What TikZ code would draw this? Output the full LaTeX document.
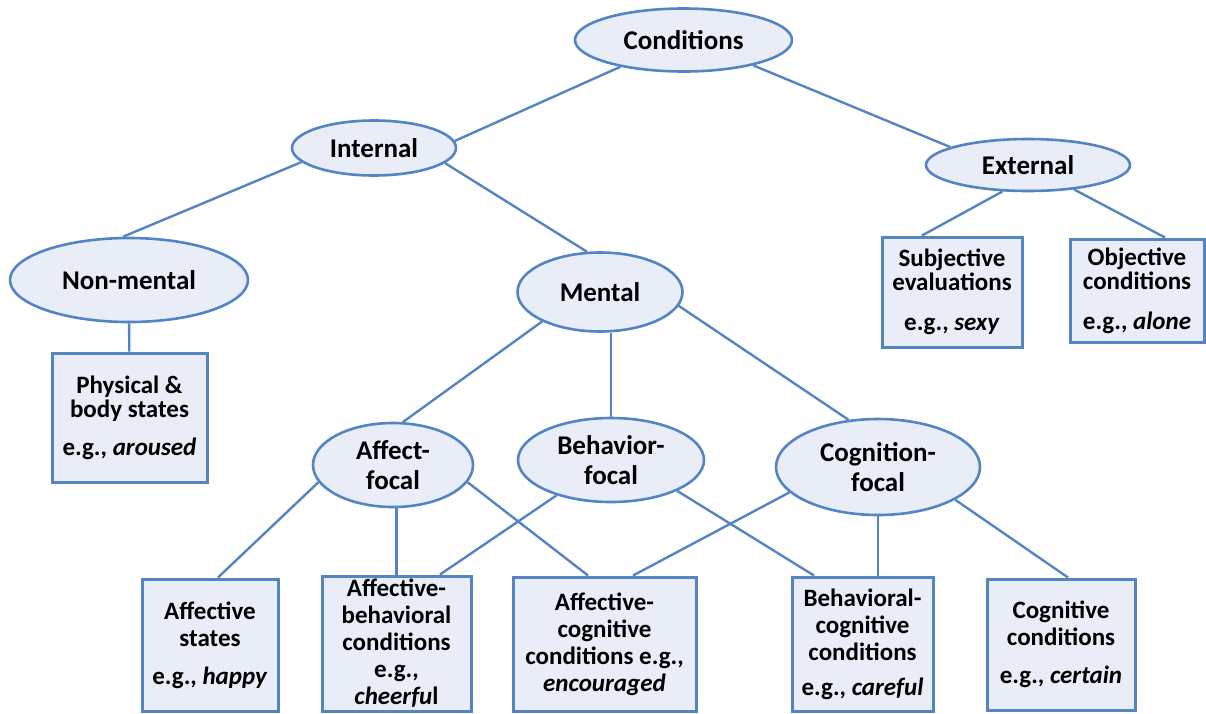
\documentclass[tikz,border=0pt]{standalone}
\usepackage{fontspec}
\setmainfont{Carlito}
\usepackage{xcolor}
\usetikzlibrary{shapes.geometric}

\definecolor{edgeblue}{RGB}{84,132,194}
\definecolor{paleblue}{RGB}{232,237,247}

\tikzset{
  oval/.style={ellipse, draw=edgeblue, fill=paleblue, line width=2.6pt, inner sep=0pt,
    align=center, font=\bfseries\fontsize{27}{30}\selectfont},
  card/.style={rectangle, draw=edgeblue, fill=paleblue, line width=3pt, inner sep=0pt,
    align=center, font=\bfseries\fontsize{25}{24}\selectfont},
  link/.style={draw=edgeblue, line width=2.4pt}
}

\begin{document}
\begin{tikzpicture}[x=1pt,y=-1pt]
\useasboundingbox (0,0) rectangle (1206,713);

% ovals
\node[oval, minimum width=217pt, minimum height=63pt] (cond) at (683.5,40) {Conditions};
\node[oval, minimum width=164pt, minimum height=55pt] (int) at (374,148) {Internal};
\node[oval, minimum width=204pt, minimum height=52pt] (ext) at (1028,165) {External};
\node[oval, minimum width=238pt, minimum height=84pt] (nm) at (129,280) {Non-mental};
\node[oval, minimum width=165pt, minimum height=79pt] (ment) at (600,292) {Mental};
\node[oval, minimum width=160pt, minimum height=84pt] (aff) at (393,465) {Affect-\\focal};
\node[oval, minimum width=186pt, minimum height=84pt] (beh) at (611,460) {Behavior-\\focal};
\node[oval, minimum width=204pt, minimum height=96pt] (cog) at (878,467) {Cognition-\\focal};

% boxes
\node[card, minimum width=155pt, minimum height=129pt] (phys) at (129.5,417.5)
  {Physical \&\\body states\\[14pt]e.g., \textit{aroused}};
\node[card, minimum width=140pt, minimum height=110pt] (subj) at (952,292)
  {Subjective\\evaluations\\[16pt]e.g., \textit{sexy}};
\node[card, minimum width=134pt, minimum height=103pt] (obj) at (1137,290.5)
  {Objective\\conditions\\[16pt]e.g., \textit{alone}};
\node[card, minimum width=136pt, minimum height=132pt] (afs) at (210,645)
  {Affective\\[3pt]states\\[14pt]e.g., \textit{happy}};
\node[card, minimum width=149pt, minimum height=135pt] (afb) at (396.5,643.5)
  {Affective-\\[3pt]behavioral\\[3pt]conditions\\[3pt]e.g.,\\[3pt]\textit{cheerfu}l};
\node[card, minimum width=183pt, minimum height=134pt] (afc) at (604.5,644)
  {Affective-\\[3pt]cognitive\\[3pt]conditions e.g.,\\[3pt]\textit{encouraged}};
\node[card, minimum width=141pt, minimum height=134pt] (bhc) at (862.5,644)
  {Behavioral-\\[3pt]cognitive\\[3pt]conditions\\[11pt]e.g., \textit{careful}};
\node[card, minimum width=148pt, minimum height=131pt] (cgc) at (1061,644.5)
  {Cognitive\\[3pt]conditions\\[14pt]e.g., \textit{certain}};

% upper links
\draw[link] (cond.203.5) -- (int.5);
\draw[link] (cond.-20.6) -- (ext.167);
\draw[link] (int.191) -- (nm.98);
\draw[link] (int.-12) -- (ment.108);
\draw[link] (ext.-134) -- ([xshift=-30pt]subj.north);
\draw[link] (ext.-28) -- ([xshift=28pt]obj.north);
\draw[link] (nm) -- (phys);

% mental links
\draw[link] (ment.207) -- (aff.77);
\draw[link] (beh.north) -- (beh.north |- ment.south);
\draw[link] (ment.-10.4) -- (cog.122);

% lower links
\draw[link] (aff.193) -- ([xshift=8pt]afs.north);
\draw[link] (afb.north) -- (afb.north |- aff.south);
\draw[link] (aff.-13.2) -- ([xshift=-16.5pt]afc.north);
\draw[link] (beh.213) -- ([xshift=43.5pt]afb.north);
\draw[link] (beh.-25.5) -- ([xshift=-48.5pt]bhc.north);
\draw[link] (cog.196.7) -- ([xshift=28.5pt]afc.north);
\draw[link] (cog.south) -- (cog.south |- bhc.north);
\draw[link] (cog.-23.4) -- ([xshift=7pt]cgc.north);

\end{tikzpicture}
\end{document}
